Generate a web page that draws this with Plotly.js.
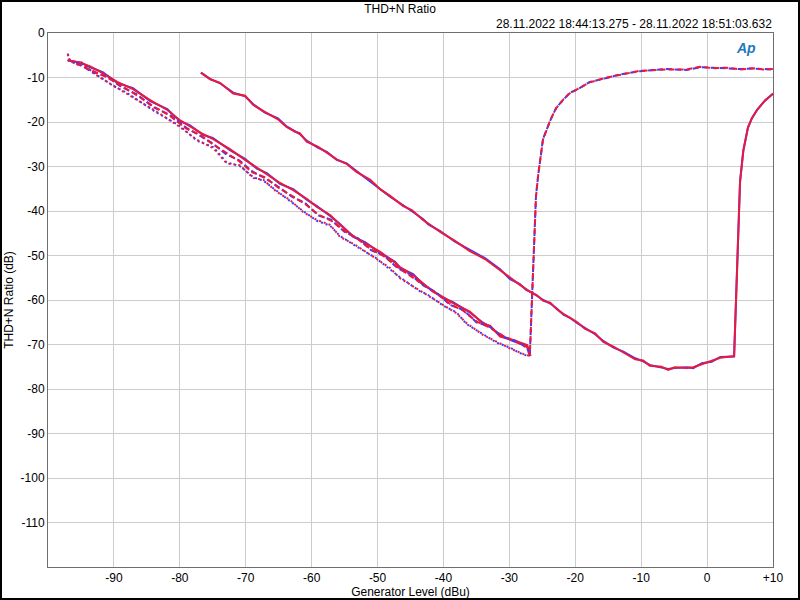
<!DOCTYPE html>
<html>
<head>
<meta charset="utf-8">
<script src="https://cdn.plot.ly/plotly-3.0.1.min.js"></script>
<style>
  html, body { margin:0; padding:0; background:#fff; }
  #wrap { position:relative; width:800px; height:600px; }
  #chart { width:800px; height:600px; }
  #frame { position:absolute; left:0; top:0; width:800px; height:600px; box-sizing:border-box; border:2px solid #000; pointer-events:none; }
</style>
</head>
<body>
<div id="wrap"><div id="chart"></div><div id="frame"></div></div>
<script>
// ---------- Data (Generator Level dBu, THD+N Ratio dB) ----------
// Sweep A (solid, higher gain)
const genA = [-76.8,-75.4,-73.9,-71.9,-70.1,-68.85,-67.1,-65.1,-63.8,-62.5,-61.8,-60.75,-59.0,-57.7,-56.2,-54.7,-53.2,-51.1,-49.6,-48.1,-46.1,-44.8,-43.1,-42.3,-40.5,-38.25,-36.0,-33.7,-31.4,-29.9,-28.4,-27.4,-26.6,-25.85,-24.85,-23.8,-22.8,-21.8,-20.8,-19.8,-18.5,-17.0,-15.75,-14.2,-12.7,-10.9,-9.7,-8.7,-6.9,-5.9,-4.9,-3.1,-2.1,-0.8,0.7,2.0,4.1,5.0,5.5,6.2,6.8,7.6,8.8,10.0];
const thdA_ch1 = [-8.9,-10.3,-11.3,-13.4,-14.2,-16.0,-17.9,-19.2,-21.0,-22.0,-22.7,-24.2,-25.8,-26.7,-28.5,-29.3,-31.0,-33.2,-35.0,-36.8,-38.7,-40.0,-41.8,-43.0,-44.5,-46.9,-48.8,-50.6,-53.1,-55.3,-56.4,-57.8,-58.3,-59.1,-60.0,-60.8,-61.9,-63.3,-64.0,-65.1,-66.3,-67.7,-69.2,-70.7,-71.6,-73.1,-73.8,-74.6,-75.2,-75.5,-75.3,-75.1,-75.3,-74.2,-73.9,-72.8,-72.7,-33.3,-26.5,-21.2,-19.2,-17.2,-15.2,-13.6];
const thdA_ch2 = [-8.9,-10.4,-11.2,-13.6,-14.1,-16.2,-17.7,-19.4,-21.1,-22.2,-22.5,-24.4,-25.6,-26.9,-28.4,-29.4,-31.2,-33.0,-35.1,-36.6,-38.9,-39.8,-42.0,-42.8,-44.7,-46.7,-49.0,-50.8,-53.3,-55.1,-56.6,-57.6,-58.4,-58.9,-60.2,-60.6,-62.1,-63.1,-64.1,-64.9,-66.5,-67.5,-69.4,-70.5,-71.8,-73.3,-73.6,-74.8,-75.0,-75.7,-75.1,-75.3,-75.1,-74.4,-73.7,-73.0,-72.6,-33.5,-26.3,-21.3,-19.1,-17.3,-15.1,-13.7];

// Sweep S (solid, low group)
const genS = [-97.0,-95.1,-93.6,-91.7,-89.5,-87.1,-84.5,-81.9,-80.0,-78.5,-76.5,-75.0,-72.4,-70.1,-68.3,-66.8,-64.8,-62.8,-60.7,-59.2,-57.2,-55.7,-53.7,-51.9,-49.6,-47.35,-46.6,-44.6,-43.1,-41.6,-40.1,-38.55,-36.0,-34.0,-32.9,-31.4,-29.45,-27.3,-26.8];
const thdS_ch1 = [-6.2,-6.6,-7.7,-8.8,-11.2,-12.4,-15.3,-17.1,-19.8,-20.7,-22.9,-23.6,-26.3,-28.3,-30.5,-31.5,-33.9,-35.1,-37.5,-38.9,-41.1,-42.9,-45.8,-47.0,-49.4,-51.4,-52.8,-54.2,-56.5,-57.9,-59.5,-60.5,-62.8,-65.1,-66.0,-68.0,-69.2,-70.3,-72.5];
const thdS_ch2 = [-6.1,-6.7,-7.5,-9.0,-11.0,-12.6,-15.1,-17.3,-19.6,-20.9,-22.7,-23.8,-26.1,-28.5,-30.3,-31.7,-33.7,-35.3,-37.3,-39.1,-40.9,-43.1,-45.6,-47.2,-49.2,-51.6,-52.6,-54.4,-56.3,-58.1,-59.3,-60.7,-62.6,-65.3,-65.8,-68.2,-69.0,-70.1,-72.6];

// Sweep D (dotted, low group)
const genD = [-97.0,-96.7,-95.6,-94.9,-93.1,-90.1,-88.1,-83.5,-80.0,-77.4,-74.9,-72.9,-70.9,-68.85,-67.3,-65.3,-63.3,-61.3,-59.2,-57.2,-55.7,-53.4,-50.4,-48.1,-46.6,-43.6,-42.5,-40.0,-38.0,-36.5,-33.95,-31.9,-29.9,-27.9,-26.9];
const thdD_ch1 = [-4.8,-6.1,-7.2,-6.8,-8.9,-11.9,-13.4,-17.9,-20.9,-24.2,-25.7,-29.1,-29.9,-32.4,-33.2,-35.5,-37.7,-40.0,-42.2,-43.3,-45.6,-47.8,-50.4,-53.0,-54.9,-58.0,-58.7,-61.3,-62.8,-65.4,-67.7,-69.6,-70.7,-72.3,-72.6];
const thdD_ch2 = [-4.6,-6.2,-7.0,-6.6,-9.1,-11.7,-13.6,-17.7,-21.1,-24.0,-25.9,-29.3,-29.7,-32.6,-33.0,-35.7,-37.5,-40.2,-42.0,-43.1,-45.8,-47.6,-50.6,-52.8,-55.1,-57.8,-58.9,-61.1,-63.0,-65.2,-67.9,-69.4,-70.9,-72.1,-72.6];

// Sweep M (dashed, low group, continues into clipping)
const genM = [-97.0,-95.5,-93.5,-91.0,-89.0,-86.5,-84.0,-81.5,-79.0,-77.0,-75.0,-73.0,-71.0,-69.0,-67.0,-65.0,-63.0,-61.0,-59.0,-57.0,-55.0,-53.0,-51.0,-49.0,-47.0,-45.0,-43.0,-41.0,-39.0,-37.0,-35.0,-33.0,-31.0,-29.0,-27.3,-26.9,
  -25.96,-25.6,-24.9,-23.8,-22.9,-21.8,-20.8,-19.8,-17.8,-15.2,-13.2,-10.2,-6.1,-3.1,-1.1,0.9,3.0,5.0,7.0,8.5,10.0];
const thdM_ch1 = [-6.1,-6.8,-8.6,-9.8,-12.0,-13.8,-16.7,-18.4,-21.3,-23.0,-24.8,-27.2,-28.6,-31.1,-32.7,-34.6,-36.8,-38.2,-41.0,-42.0,-44.7,-46.1,-48.8,-50.0,-52.8,-54.3,-56.8,-58.4,-61.1,-62.2,-65.0,-66.0,-68.2,-69.2,-70.8,-72.4,
  -36.5,-31.7,-23.8,-19.7,-16.8,-15.0,-13.4,-12.8,-11.0,-10.1,-9.3,-8.6,-8.1,-8.3,-7.7,-7.8,-7.9,-8.1,-8.0,-8.1,-8.2];
const thdM_ch2 = [-6.0,-7.0,-8.4,-10.0,-11.8,-14.0,-16.5,-18.6,-21.5,-22.8,-25.0,-27.0,-28.8,-31.3,-32.5,-34.8,-36.6,-38.4,-40.8,-42.2,-44.5,-46.3,-48.6,-50.2,-52.6,-54.5,-56.6,-58.6,-60.9,-62.4,-64.8,-66.2,-68.0,-69.4,-70.6,-72.5,
  -36.8,-31.5,-24.0,-19.6,-16.9,-14.9,-13.5,-12.7,-11.1,-10.0,-9.4,-8.5,-8.2,-8.2,-7.6,-7.9,-7.8,-8.2,-7.9,-8.2,-8.1];

// Axis ticks
const xTickVals = [-90,-80,-70,-60,-50,-40,-30,-20,-10,0,10];
const xTickText = ['-90','-80','-70','-60','-50','-40','-30','-20','-10','0','+10'];
const yTickVals = [0,-10,-20,-30,-40,-50,-60,-70,-80,-90,-100,-110];
const yTickText = ['0','-10','-20','-30','-40','-50','-60','-70','-80','-90','-100','-110'];

const chartTitle = 'THD+N Ratio';
const timeStamp = '28.11.2022 18:44:13.275 - 28.11.2022 18:51:03.632';
const xTitle = 'Generator Level (dBu)';
const yTitle = 'THD+N Ratio (dB)';

// ---------- Styles ----------
const BLUE = 'rgb(60,60,255)';
const RED = 'rgb(235,25,60)';
const DASH = '6px,3px';
const DOT = '2px,3px';

function tr(x, y, color, dash) {
  return { x: x, y: y, type: 'scatter', mode: 'lines',
           line: { color: color, width: 2, dash: dash },
           hoverinfo: 'skip' };
}

const traces = [
  tr(genA, thdA_ch1, BLUE, 'solid'),
  tr(genA, thdA_ch2, RED, 'solid'),
  tr(genS, thdS_ch1, BLUE, 'solid'),
  tr(genS, thdS_ch2, RED, 'solid'),
  tr(genD, thdD_ch1, BLUE, DOT),
  tr(genD, thdD_ch2, RED, DOT),
  tr(genM, thdM_ch1, BLUE, DASH),
  tr(genM, thdM_ch2, RED, DASH)
];

const FONT = 'Liberation Sans, Arial, sans-serif';

const layout = {
  width: 800, height: 600,
  margin: { l: 48, r: 27, t: 33, b: 33, pad: 0 },
  paper_bgcolor: '#ffffff', plot_bgcolor: '#ffffff',
  font: { family: FONT, size: 12, color: '#000' },
  showlegend: false,
  title: { text: chartTitle, font: { family: FONT, size: 12, color: '#000' },
           x: 0.5, xref: 'container', xanchor: 'center',
           y: 0.986, yref: 'container', yanchor: 'middle' },
  xaxis: {
    range: [-100, 10], tickvals: xTickVals, ticktext: xTickText,
    showgrid: true, gridcolor: 'rgb(204,204,204)', gridwidth: 1,
    zeroline: false, showline: true, linecolor: 'rgb(110,110,110)', linewidth: 1, mirror: true,
    ticks: '', tickfont: { family: FONT, size: 12, color: '#000' },
    title: { text: xTitle, standoff: 2, font: { family: FONT, size: 12, color: '#000' } }
  },
  yaxis: {
    range: [-120, 0], tickvals: yTickVals, ticktext: yTickText,
    showgrid: true, gridcolor: 'rgb(204,204,204)', gridwidth: 1,
    zeroline: false, showline: true, linecolor: 'rgb(110,110,110)', linewidth: 1, mirror: true,
    ticks: '', tickfont: { family: FONT, size: 12, color: '#000' },
    title: { text: yTitle, standoff: 4, font: { family: FONT, size: 12, color: '#000' } }
  },
  annotations: [
    { text: timeStamp, xref: 'paper', yref: 'paper', x: 1.0015, y: 1.017,
      xanchor: 'right', yanchor: 'middle', showarrow: false,
      font: { family: FONT, size: 12, color: '#000' } },
    { text: '<b><i>Ap</i></b>', xref: 'paper', yref: 'paper', x: 0.963, y: 0.972,
      xanchor: 'center', yanchor: 'middle', showarrow: false,
      font: { family: FONT, size: 14, color: 'rgb(30,120,190)' } }
  ]
};

Plotly.newPlot('chart', traces, layout, { staticPlot: true, displayModeBar: false });
</script>
</body>
</html>
